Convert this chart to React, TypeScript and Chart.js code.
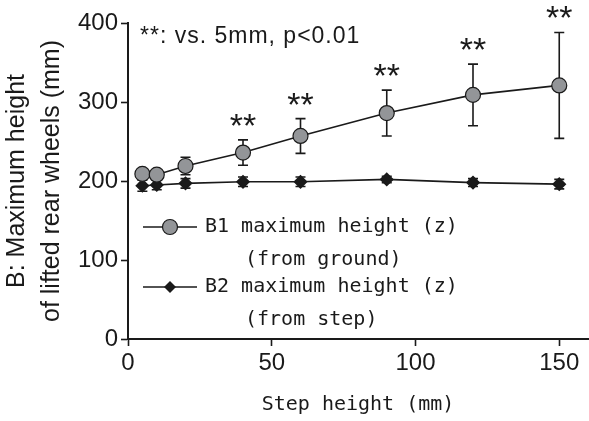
import { useEffect, useRef } from 'react';
import { Chart, registerables } from 'chart.js';

Chart.register(...registerables);

const stepHeights = [5, 10, 20, 40, 60, 90, 120, 150];
const b1Values = [209, 208, 219, 236, 257, 286, 309, 321];
const b1Errors = [5, 6, 11, 16, 22, 29, 39, 67];
const b2Values = [194, 195, 197, 199, 199, 202, 198, 196];
const b2Errors = [7, 6, 6, 6, 6, 4, 5, 6];
const significance = ['', '', '', '**', '**', '**', '**', '**'];
const xTicks = [0, 50, 100, 150];
const yTicks = [0, 100, 200, 300, 400];
const b1Label = ['B1 maximum height (z)', '(from ground)'];
const b2Label = ['B2 maximum height (z)', '(from step)'];
const noteText = '**: vs. 5mm, p<0.01';

const SANS = '"Liberation Sans", Arial, Helvetica, sans-serif';
const MONO = '"DejaVu Sans Mono", monospace';
const INK = '#1a1a1a';

const errorBarPlugin = {
  id: 'errorBars',
  beforeDatasetsDraw(chart: any) {
    const { ctx } = chart;
    const xs = chart.scales.x;
    const ys = chart.scales.y;
    const sets = [
      { v: b1Values, e: b1Errors },
      { v: b2Values, e: b2Errors },
    ];
    ctx.save();
    ctx.strokeStyle = INK;
    ctx.lineWidth = 1.6;
    sets.forEach((s) => {
      stepHeights.forEach((x, i) => {
        const px = xs.getPixelForValue(x);
        const top = ys.getPixelForValue(s.v[i] + s.e[i]);
        const bot = ys.getPixelForValue(s.v[i] - s.e[i]);
        ctx.beginPath();
        ctx.moveTo(px, top);
        ctx.lineTo(px, bot);
        ctx.moveTo(px - 5, top);
        ctx.lineTo(px + 5, top);
        ctx.moveTo(px - 5, bot);
        ctx.lineTo(px + 5, bot);
        ctx.stroke();
      });
    });
    ctx.restore();
  },
  afterDraw(chart: any) {
    const { ctx, chartArea } = chart;
    const xs = chart.scales.x;
    const ys = chart.scales.y;
    ctx.save();
    // significance stars
    ctx.fillStyle = INK;
    ctx.font = `34px ${SANS}`;
    ctx.textAlign = 'center';
    ctx.textBaseline = 'alphabetic';
    stepHeights.forEach((x, i) => {
      if (!significance[i]) return;
      const px = xs.getPixelForValue(x);
      const top = ys.getPixelForValue(b1Values[i] + b1Errors[i]);
      ctx.fillText(significance[i], px, top - 3);
    });
    // note text
    ctx.textAlign = 'left';
    ctx.font = `23px ${SANS}`;
    (ctx as any).letterSpacing = '1px';
    ctx.fillText(noteText, chartArea.left + 12, chartArea.top + 20);
    (ctx as any).letterSpacing = '0px';

    // legend
    const entries = [
      { label: b1Label, y: chartArea.top + 204, kind: 'circle' },
      { label: b2Label, y: chartArea.top + 264, kind: 'diamond' },
    ];
    const lx0 = chartArea.left + 15;
    const lx1 = chartArea.left + 69;
    const mx = chartArea.left + 42;
    entries.forEach((en) => {
      ctx.strokeStyle = INK;
      ctx.lineWidth = 1.6;
      ctx.beginPath();
      ctx.moveTo(lx0, en.y);
      ctx.lineTo(lx1, en.y);
      ctx.stroke();
      if (en.kind === 'circle') {
        ctx.beginPath();
        ctx.arc(mx, en.y, 7.5, 0, Math.PI * 2);
        ctx.fillStyle = '#939598';
        ctx.fill();
        ctx.lineWidth = 1.2;
        ctx.stroke();
      } else {
        ctx.beginPath();
        ctx.moveTo(mx, en.y - 6);
        ctx.lineTo(mx + 6, en.y);
        ctx.lineTo(mx, en.y + 6);
        ctx.lineTo(mx - 6, en.y);
        ctx.closePath();
        ctx.fillStyle = INK;
        ctx.fill();
      }
      ctx.fillStyle = INK;
      ctx.font = `20px ${MONO}`;
      ctx.textBaseline = 'middle';
      ctx.fillText(en.label[0], chartArea.left + 77, en.y);
      ctx.fillText(en.label[1], chartArea.left + 117, en.y + 33);
    });
    ctx.restore();
  },
};

export default function App() {
  const ref = useRef<HTMLCanvasElement>(null);
  useEffect(() => {
    document.body.style.margin = '0';
    const canvas = ref.current;
    if (!canvas) return;
    const chart = new Chart(canvas, {
      type: 'line',
      data: {
        datasets: [
          {
            label: 'B1 maximum height (z) (from ground)',
            data: stepHeights.map((x, i) => ({ x, y: b1Values[i] })),
            borderColor: INK,
            borderWidth: 1.6,
            backgroundColor: '#939598',
            pointBackgroundColor: '#939598',
            pointBorderColor: INK,
            pointBorderWidth: 1.2,
            pointRadius: 7.5,
            pointStyle: 'circle',
            tension: 0,
            clip: false,
          },
          {
            label: 'B2 maximum height (z) (from step)',
            data: stepHeights.map((x, i) => ({ x, y: b2Values[i] })),
            borderColor: INK,
            borderWidth: 1.6,
            backgroundColor: INK,
            pointBackgroundColor: INK,
            pointBorderColor: INK,
            pointRadius: 6,
            pointStyle: 'rectRot',
            tension: 0,
            clip: false,
          },
        ],
      },
      options: {
        animation: false,
        responsive: false,
        maintainAspectRatio: false,
        layout: { autoPadding: false, padding: { top: 23, right: 1, left: 0, bottom: 0 } },
        plugins: {
          legend: { display: false },
          tooltip: { enabled: false },
        },
        scales: {
          x: {
            type: 'linear',
            min: 0,
            max: 160,
            afterBuildTicks: (s: any) => {
              s.ticks = xTicks.map((v) => ({ value: v }));
            },
            afterFit: (s: any) => {
              s.height = 82;
              s.paddingLeft = 0;
              s.paddingRight = 0;
            },
            grid: {
              display: true,
              drawOnChartArea: false,
              drawTicks: true,
              tickLength: 7,
              tickWidth: 1.6,
              tickColor: INK,
            },
            border: { display: true, color: INK, width: 2 },
            ticks: {
              color: INK,
              font: { family: SANS, size: 24 },
              padding: 3,
              maxRotation: 0,
            },
            title: {
              display: true,
              text: 'Step height (mm)',
              color: INK,
              font: { family: MONO, size: 20, lineHeight: 1.2 },
              padding: { top: 0, bottom: 4 },
            },
          },
          y: {
            type: 'linear',
            min: 0,
            max: 400,
            afterBuildTicks: (s: any) => {
              s.ticks = yTicks.map((v) => ({ value: v }));
            },
            afterFit: (s: any) => {
              s.width = 128;
            },
            grid: {
              display: true,
              drawOnChartArea: false,
              drawTicks: true,
              tickLength: 7,
              tickWidth: 1.6,
              tickColor: INK,
            },
            border: { display: true, color: INK, width: 2 },
            ticks: {
              color: INK,
              font: { family: SANS, size: 24 },
              padding: 3,
            },
            title: {
              display: true,
              text: ['B: Maximum height', 'of lifted rear wheels (mm)'],
              color: INK,
              font: { family: SANS, size: 25, lineHeight: 1.4 },
              padding: { top: 0, bottom: 0 },
            },
          },
        },
      },
      plugins: [errorBarPlugin],
    });
    return () => chart.destroy();
  }, []);
  return <canvas ref={ref} width={589} height={421} style={{ display: 'block' }} />;
}
